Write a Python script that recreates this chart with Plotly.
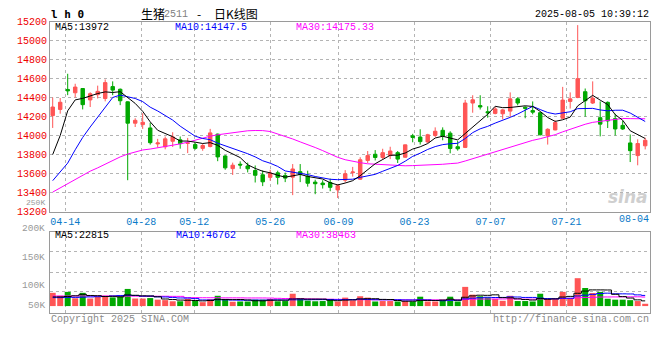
import plotly.graph_objects as go

# ---------------- data ----------------
dates = ["04-10","04-11","04-14","04-15","04-16","04-17","04-18","04-21","04-22","04-23",
         "04-24","04-25","04-28","04-29","04-30","05-06","05-07","05-08","05-09","05-12",
         "05-13","05-14","05-15","05-16","05-19","05-20","05-21","05-22","05-23","05-26",
         "05-27","05-28","05-29","05-30","06-03","06-04","06-05","06-06","06-09","06-10",
         "06-11","06-12","06-13","06-16","06-17","06-18","06-19","06-20","06-23","06-24",
         "06-25","06-26","06-27","06-30","07-01","07-02","07-03","07-04","07-07","07-08",
         "07-09","07-10","07-11","07-14","07-15","07-16","07-17","07-18","07-21","07-22",
         "07-23","07-24","07-25","07-28","07-29","07-30","07-31","08-01","08-04","08-05"]

opens = [14210,14275,14485,14450,14495,14375,14430,14390,14515,14487,
         14355,14130,14115,14080,13912,13882,13940,13955,13918,13905,
         13865,13885,14015,13785,13652,13698,13680,13632,13587,13560,
         13608,13580,13562,13620,13573,13510,13500,13506,13428,13530,
         13609,13541,13738,13803,13769,13789,13820,13772,13997,13984,
         13933,14001,14055,14025,13882,13875,14342,14315,14250,14233,
         14229,14257,14386,14298,14263,14240,13997,14059,14182,14359,
         14400,14461,14342,14188,14349,14178,14107,13922,13789,13892]
highs = [14400,14395,14650,14545,14500,14455,14525,14590,14570,14495,
         14360,14182,14235,14135,13965,13990,14035,13990,13975,13925,
         13915,14070,14020,13795,13715,13728,13715,13685,13633,13640,
         13630,13610,13700,13700,13630,13535,13530,13547,13490,13636,
         13670,13772,13837,13847,13861,13882,13837,13905,14018,14066,
         14018,14086,14086,14045,13943,14376,14424,14424,14308,14301,
         14280,14454,14403,14308,14359,14246,14076,14161,14512,14454,
         15162,14495,14570,14359,14359,14229,14154,14011,13960,13977]
lows = [14080,14230,14425,14400,14275,14300,14390,14360,14425,14320,
        13530,14090,14070,13905,13875,13855,13880,13862,13815,13852,
        13840,13875,13730,13640,13585,13650,13612,13506,13468,13525,
        13485,13510,13373,13510,13462,13383,13442,13414,13343,13506,
        13568,13534,13711,13738,13745,13752,13711,13766,13929,13905,
        13922,13984,13950,13813,13841,13868,14240,14274,14188,14223,
        14171,14195,14318,14182,14223,14001,13905,14055,14178,14284,
        14393,14199,14332,13991,14079,14001,14059,13721,13687,13854]
closes = [14300,14350,14470,14510,14325,14440,14465,14557,14478,14366,
          14130,14160,14140,13925,13922,13965,13985,13915,13922,13865,
          13895,14028,13775,13660,13688,13690,13650,13582,13513,13605,
          13560,13552,13648,13590,13498,13493,13483,13455,13472,13598,
          13616,13745,13789,13769,13820,13837,13752,13902,13980,13936,
          14008,14045,13994,13864,13861,14342,14376,14301,14240,14280,
          14270,14386,14342,14287,14246,14008,14066,14137,14373,14386,
          14598,14366,14393,14120,14154,14069,14069,13841,13916,13950]
# volume, thousands of lots
volume_k = [58,45,62,34,58,33,40,45,38,45,
            75,33,33,35,28,26,21,21,31,23,
            17,30,45,30,19,20,20,28,28,31,
            21,22,54,31,24,21,22,31,20,37,
            24,43,37,20,22,22,20,22,20,41,
            20,20,28,41,20,84,50,43,38,31,
            23,45,22,22,20,54,31,31,62,34,
            122,79,57,62,32,28,28,26,22,10]

# moving-average values before enough visible closes exist
ma5_head = [13800, 14000, 14260, 14375]
ma10_head = [13525, 13615, 13710, 13850, 13980, 14090, 14190, 14300, 14400]
ma30_head = [13405, 13450, 13495, 13540, 13585, 13625, 13660, 13700, 13740, 13775,
             13805, 13830, 13848, 13858, 13870, 13884, 13898, 13912, 13930, 13952,
             13970, 13993, 14008, 14020, 14032, 14045, 14050, 14053, 14052]
vma5_head = [40, 40, 42, 45]
vma10_head = [37, 37, 38, 38, 39, 40, 41, 42, 44]
vma30_head = [44, 44, 44, 44, 44, 44, 44, 44, 44, 43.5, 43.5, 43.5, 43, 43, 43, 43, 42.5, 42.5,
              37, 37, 36.5, 36.5, 36.5, 36, 36, 36, 35.5, 35.5, 35.5]

price_ticks = list(range(13200, 15201, 200))
tick_dates = ["04-14", "04-28", "05-12", "05-26", "06-09", "06-23", "07-07", "07-21"]
last_tick_date = "08-04"

legend_price = ["MA5:13972", "MA10:14147.5", "MA30:14175.33"]
legend_vol = ["MA5:22815", "MA10:46762", "MA30:38463"]
vol_labels = ["250K", "200K", "150K", "100K", "50K"]

# ---------------- helpers ----------------
def moving_avg(vals, n, head):
    out = []
    for i in range(len(vals)):
        if i < n - 1:
            out.append(head[i])
        else:
            out.append(sum(vals[i - n + 1:i + 1]) / n)
    return out

W, H = 660, 360
def fx(px):
    return px / W
def fy(py):
    return 1 - py / H

RED = "#ff5555"
GREEN = "#00a800"
BLUE_T = "#0a7ac8"
GRID = "#b4b4b4"
BORDER = "#9a9a9a"
MONO = "Liberation Mono"
CJK = "Noto Sans CJK SC"

xs = list(range(len(dates)))
X0 = -0.36
xr = [X0, X0 + len(dates)]
tickpos = [dates.index(d) * len(dates) / (len(dates) - 1) + X0 for d in tick_dates]

ma5 = moving_avg(closes, 5, ma5_head)
ma10 = moving_avg(closes, 10, ma10_head)
ma30 = moving_avg(closes, 30, ma30_head)
vma5 = moving_avg(volume_k, 5, vma5_head)
vma10 = moving_avg(volume_k, 10, vma10_head)
vma30 = moving_avg(volume_k, 30, vma30_head)
vcolors = [RED if c >= o else GREEN for o, c in zip(opens, closes)]

fig = go.Figure()
fig.add_trace(go.Candlestick(
    x=xs, open=opens, high=highs, low=lows, close=closes,
    increasing=dict(line=dict(color=RED, width=1), fillcolor=RED),
    decreasing=dict(line=dict(color=GREEN, width=1), fillcolor=GREEN),
    whiskerwidth=0, hoverinfo="skip", showlegend=False, xaxis="x", yaxis="y"))
for vals, col in [(ma30, "#ff00ff"), (ma10, "#0000ff"), (ma5, "#000000")]:
    fig.add_trace(go.Scatter(x=xs, y=vals, mode="lines", line=dict(color=col, width=1),
                             hoverinfo="skip", showlegend=False, xaxis="x", yaxis="y"))

fig.add_trace(go.Bar(x=xs, y=volume_k, marker=dict(color=vcolors, line=dict(width=0)),
                     width=0.8, hoverinfo="skip", showlegend=False, xaxis="x2", yaxis="y2"))
for vals, col in [(vma30, "#ff00ff"), (vma10, "#0000ff"), (vma5, "#000000")]:
    fig.add_trace(go.Scatter(x=xs, y=vals, mode="lines", line=dict(color=col, width=1, shape="hvh"),
                             hoverinfo="skip", showlegend=False, xaxis="x2", yaxis="y2"))

axis_common = dict(showgrid=True, gridcolor=GRID, griddash="dot", gridwidth=1,
                   showline=True, mirror=True, linecolor=BORDER, linewidth=1,
                   zeroline=False, ticks="", fixedrange=True)

# volume axis: bar baseline at y=310.7px, 0.235 px per thousand
VB, VS = 310.7, 0.235
v_top = (VB - 234.3) / VS
v_bot = -(317.7 - VB) / VS
vgrid = [(VB - p) / VS for p in (255, 276, 296)]

fig.update_layout(
    width=W, height=H, autosize=False,
    margin=dict(l=0, r=0, t=0, b=0),
    paper_bgcolor="white", plot_bgcolor="white",
    boxgap=0.34,
    xaxis=dict(domain=[fx(50), fx(650)], range=xr, anchor="y",
               tickmode="array", tickvals=tickpos, ticktext=tick_dates,
               tickfont=dict(family=MONO, size=10, color=BLUE_T),
               rangeslider=dict(visible=False), **axis_common),
    yaxis=dict(domain=[fy(213.5), fy(18)], range=[13200, 15200], anchor="x",
               tickmode="array", tickvals=price_ticks,
               ticktext=[str(v) for v in price_ticks],
               tickfont=dict(family=MONO, size=10, color="#ee0000"), **axis_common),
    xaxis2=dict(domain=[fx(50), fx(650)], range=xr, anchor="y2", matches="x",
                tickmode="array", tickvals=tickpos, showticklabels=False, **axis_common),
    yaxis2=dict(domain=[fy(317.7), fy(234.3)], range=[v_bot, v_top], anchor="x2",
                tickmode="array", tickvals=vgrid, showticklabels=False, **axis_common),
)

ann = []
def text(x, y, s, color="#000000", size=10, anchor="left", family=MONO, **kw):
    ann.append(dict(x=fx(x), y=fy(y), xref="paper", yref="paper", text=s, showarrow=False,
                    xanchor=anchor, yanchor="middle", borderpad=0,
                    font=dict(family=family, size=size, color=color, **kw)))

text(50, 11, "l h 0", size=11, family="DejaVu Sans Mono", weight="bold")
text(140, 10, "生猪", size=12, family=CJK)
text(163, 11, "2511", size=10, color="#808080")
text(199, 10, "-", size=12, anchor="center", family=CJK)
text(213, 10, "日K线图", size=12, family=CJK)
text(650, 11, "2025-08-05 10:39:12", anchor="right")
text(54, 24, legend_price[0])
text(174, 24, legend_price[1], color="#0000ff")
text(295, 24, legend_price[2], color="#ff00ff")
text(54, 238.5, legend_vol[0])
text(175, 238.5, legend_vol[1], color="#0000ff")
text(295, 238.5, legend_vol[2], color="#ff00ff")
for lbl, yy, sz in zip(vol_labels, [204, 230.5, 261, 290, 310], [8, 9.5, 9.5, 9.5, 9.5]):
    text(46, yy, lbl, color="#999999", anchor="right", size=sz)
text(650, 221.5, last_tick_date, color=BLUE_T, anchor="right")
text(50, 324, "Copyright 2025 SINA.COM", color="#8a8a8a")
text(650, 324, "http://finance.sina.com.cn", color="#8a8a8a", anchor="right")
text(649, 198, "sina", color="#cfcfcf", size=17, anchor="right", family="DejaVu Sans",
     weight="bold", style="italic")
fig.update_layout(annotations=ann)

fig.write_html("out.html", config={"displayModeBar": False},
               post_script="document.body.style.margin='0';")
